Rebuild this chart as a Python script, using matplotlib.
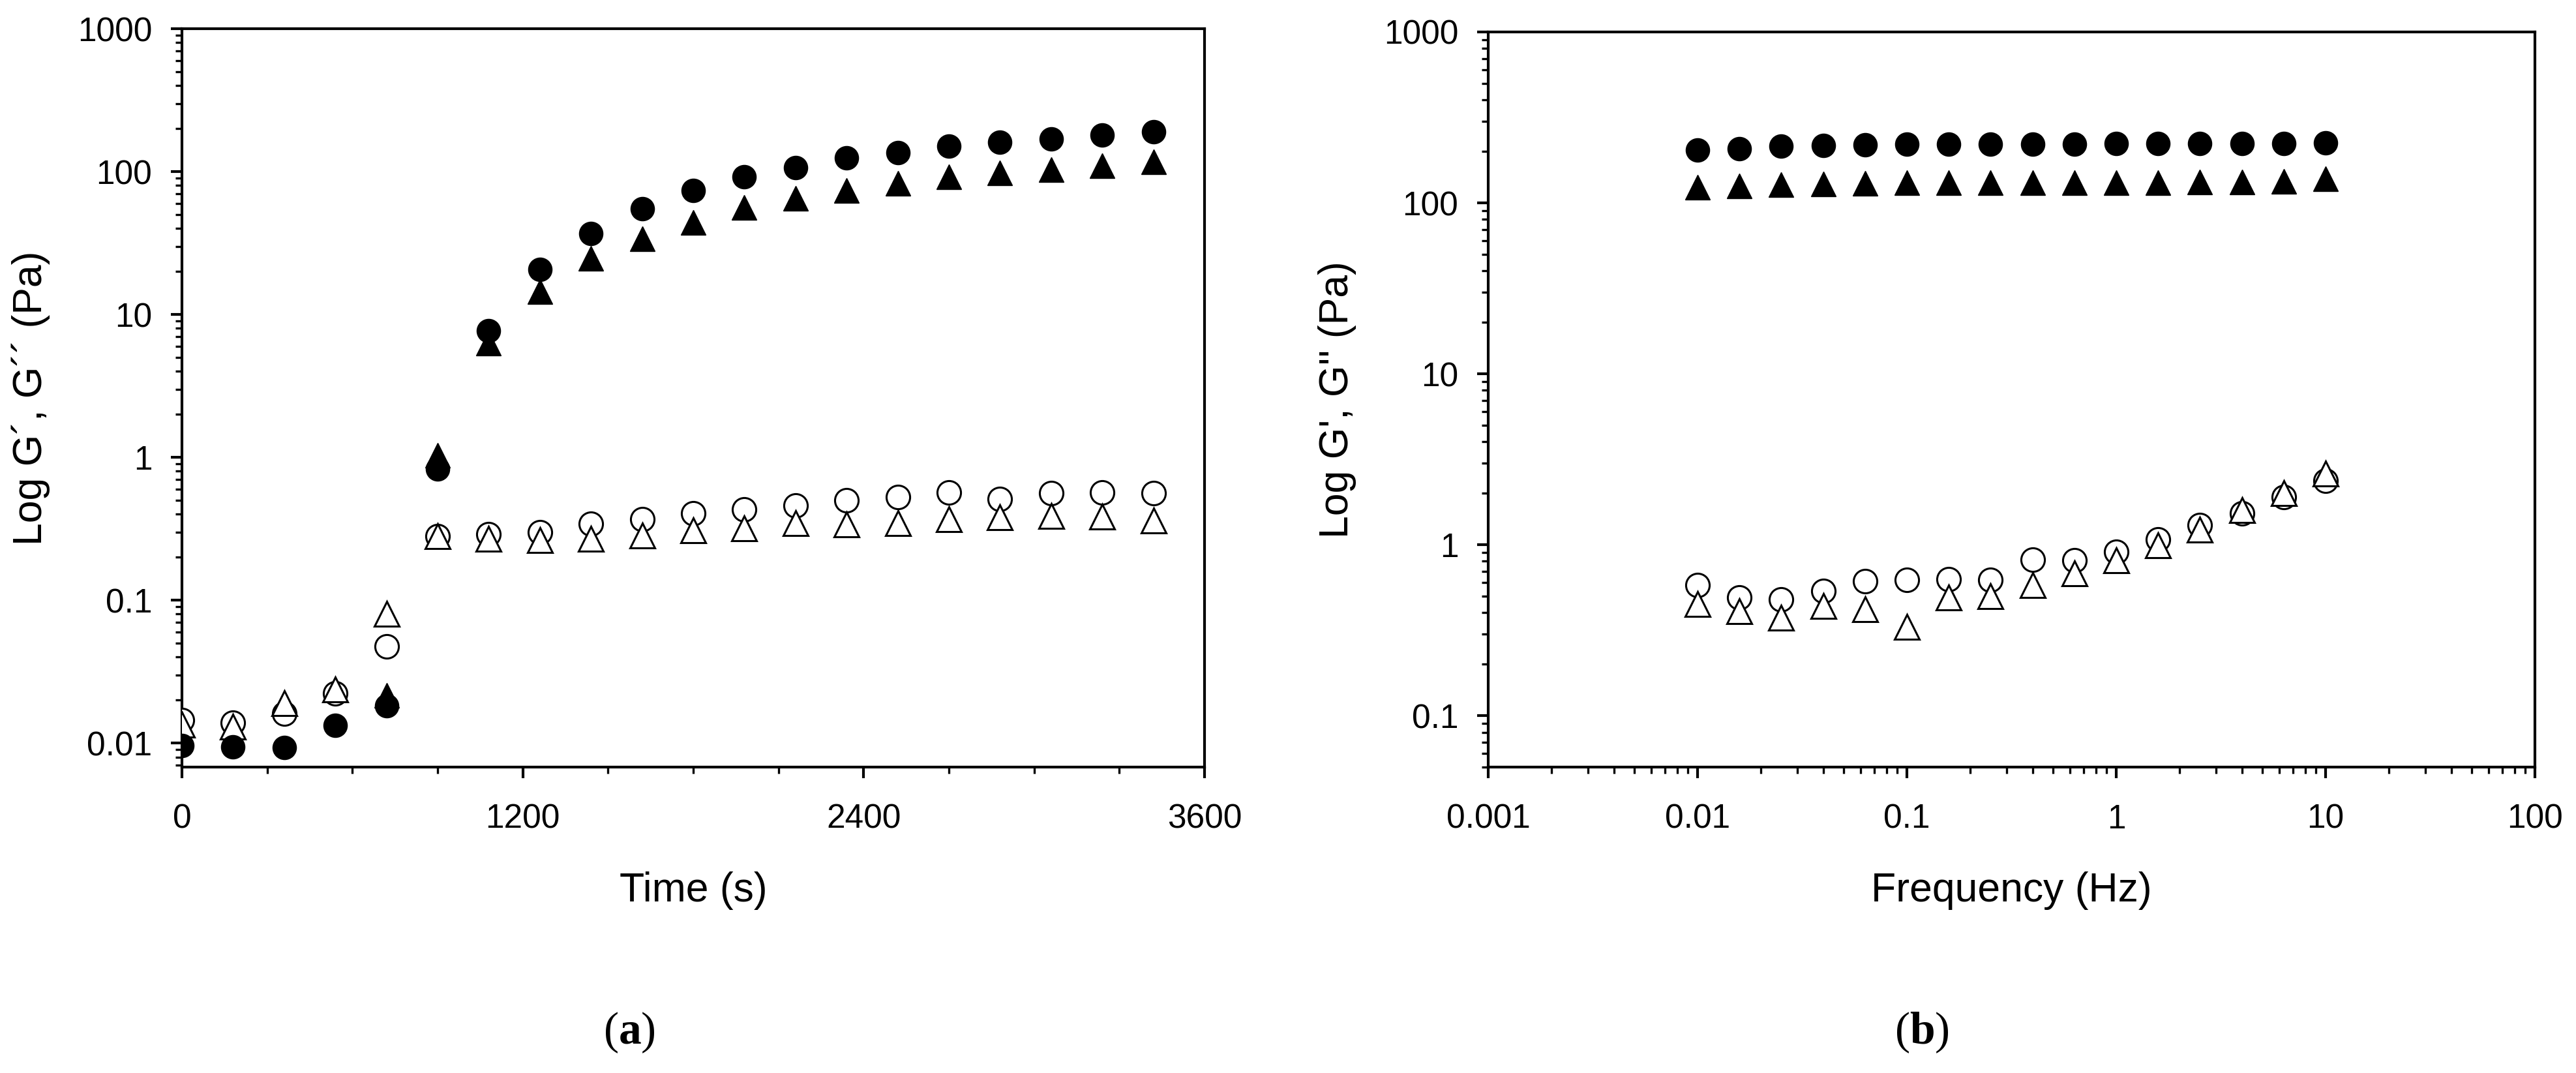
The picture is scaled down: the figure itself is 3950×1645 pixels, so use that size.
import matplotlib
matplotlib.use("Agg")
import matplotlib.pyplot as plt
from matplotlib.ticker import FixedLocator, MultipleLocator, LogLocator, FuncFormatter, NullFormatter

plt.rcParams['font.family'] = ['Liberation Sans', 'DejaVu Sans']
plt.rcParams['mathtext.fontset'] = 'custom'
plt.rcParams['mathtext.bf'] = 'Liberation Serif:bold'
plt.rcParams['mathtext.rm'] = 'Liberation Serif'

nan = float('nan')

# (a) time sweep
time_s = [0, 180, 360, 540, 720, 900, 1080, 1260, 1440, 1620, 1800, 1980,
          2160, 2340, 2520, 2700, 2880, 3060, 3240, 3420]
g1_time = [0.0096, 0.0094, 0.0093, 0.0133, 0.0183, 0.83, 7.7, 20.7, 37, 55, 74, 92,
           107, 125, 136, 151, 160, 170, 180, 190]
# first G'' points are hidden behind the G' markers in the original
g2_time = [nan, nan, nan, nan, 0.0215, 1.03, 6.3, 14.4, 24.6, 34, 44, 56,
           65, 74, 83, 92, 98, 103, 110, 117]
g1_time_open = [0.0145, 0.0139, 0.0161, 0.0224, 0.0475, 0.28, 0.29, 0.30, 0.342, 0.37,
                0.405, 0.43, 0.46, 0.50, 0.53, 0.57, 0.51, 0.56, 0.57, 0.56]
g2_time_open = [0.0135, 0.013, 0.019, 0.0237, 0.08, 0.28, 0.27, 0.265, 0.27, 0.285,
                0.31, 0.32, 0.345, 0.34, 0.345, 0.37, 0.38, 0.39, 0.385, 0.36]

# (b) frequency sweep
freq_hz = [0.01, 0.0158, 0.0251, 0.0398, 0.0631, 0.1, 0.158, 0.251, 0.398, 0.631,
           1.0, 1.585, 2.51, 3.98, 6.31, 10.0]
g1_freq = [204, 208, 215, 216, 218, 220, 220, 221, 221, 221, 223, 223, 223, 223, 223, 224]
g2_freq = [123, 126, 128, 129, 130, 131, 131, 131, 131, 131, 131, 131, 132, 132, 134, 138]
g1_freq_open = [0.578, 0.49, 0.48, 0.537, 0.61, 0.62, 0.63, 0.62, 0.82, 0.81,
                0.91, 1.07, 1.30, 1.53, 1.9, 2.37]
g2_freq_open = [0.45, 0.41, 0.374, 0.44, 0.42, 0.33, 0.49, 0.50, 0.58, 0.68,
                0.81, 0.99, 1.22, 1.6, 2.0, 2.6]

fig = plt.figure(figsize=(39.5, 16.45), dpi=100)
ax1 = fig.add_axes([279 / 3950, 1 - 1176 / 1645, (1847 - 279) / 3950, (1176 - 44) / 1645])
ax2 = fig.add_axes([2282 / 3950, 1 - 1176 / 1645, (3887 - 2282) / 3950, (1176 - 49) / 1645])

LW = 3.0
tick_fs = 37
label_fs = 45


def draw(ax, x, g1, g2, g1o, g2o):
    ax.plot(x, g1o, 'o', ms=26, mfc='white', mec='black', mew=2.2, ls='none', zorder=3)
    ax.plot(x, g2o, '^', ms=28, mfc='white', mec='black', mew=2.2, ls='none', zorder=4)
    ax.plot(x, g1, 'o', ms=26, mfc='black', mec='black', ls='none', zorder=5)
    ax.plot(x, g2, '^', ms=28, mfc='black', mec='black', ls='none', zorder=6)


def style(ax):
    for s in ax.spines.values():
        s.set_linewidth(LW)
    ax.tick_params(which='major', direction='out', length=12, width=LW, labelsize=tick_fs)
    ax.tick_params(which='minor', direction='out', length=7.5, width=LW * 0.8)
    ax.tick_params(axis='y', which='major', pad=21)
    ax.tick_params(axis='x', which='major', pad=28)
    ax.tick_params(top=False, right=False, which='both')


fmt = FuncFormatter(lambda v, _: f'{v:g}')

draw(ax1, time_s, g1_time, g2_time, g1_time_open, g2_time_open)
ax1.set_yscale('log')
ax1.set_xlim(0, 3600)
ax1.set_ylim(0.0068, 1000)
ax1.xaxis.set_major_locator(FixedLocator([0, 1200, 2400, 3600]))
ax1.xaxis.set_minor_locator(MultipleLocator(300))
ax1.yaxis.set_major_locator(FixedLocator([0.01, 0.1, 1, 10, 100, 1000]))
ax1.yaxis.set_minor_locator(LogLocator(base=10, subs=range(2, 10)))
ax1.yaxis.set_major_formatter(fmt)
ax1.yaxis.set_minor_formatter(NullFormatter())
ax1.set_xlabel('Time (s)', fontsize=label_fs, labelpad=40)
ax1.set_ylabel('Log G\u00b4, G\u00b4\u00b4 (Pa)', fontsize=label_fs, labelpad=30)
style(ax1)

draw(ax2, freq_hz, g1_freq, g2_freq, g1_freq_open, g2_freq_open)
ax2.set_xscale('log')
ax2.set_yscale('log')
ax2.set_xlim(0.001, 100)
ax2.set_ylim(0.05, 1000)
ax2.xaxis.set_major_locator(FixedLocator([0.001, 0.01, 0.1, 1, 10, 100]))
ax2.xaxis.set_minor_locator(LogLocator(base=10, subs=range(2, 10)))
ax2.yaxis.set_major_locator(FixedLocator([0.1, 1, 10, 100, 1000]))
ax2.yaxis.set_minor_locator(LogLocator(base=10, subs=range(2, 10)))
ax2.xaxis.set_major_formatter(fmt)
ax2.yaxis.set_major_formatter(fmt)
ax2.xaxis.set_minor_formatter(NullFormatter())
ax2.yaxis.set_minor_formatter(NullFormatter())
ax2.set_xlabel('Frequency (Hz)', fontsize=label_fs, labelpad=40)
ax2.set_ylabel("Log G', G'' (Pa)", fontsize=label_fs, labelpad=30)
style(ax2)

fig.text(965 / 3950, 1 - 1583 / 1645, r'($\mathbf{a}$)', fontsize=50,
         family='Liberation Serif', ha='center', va='center')
fig.text(2947 / 3950, 1 - 1583 / 1645, r'($\mathbf{b}$)', fontsize=50,
         family='Liberation Serif', ha='center', va='center')

fig.savefig('out.png', dpi=100)
